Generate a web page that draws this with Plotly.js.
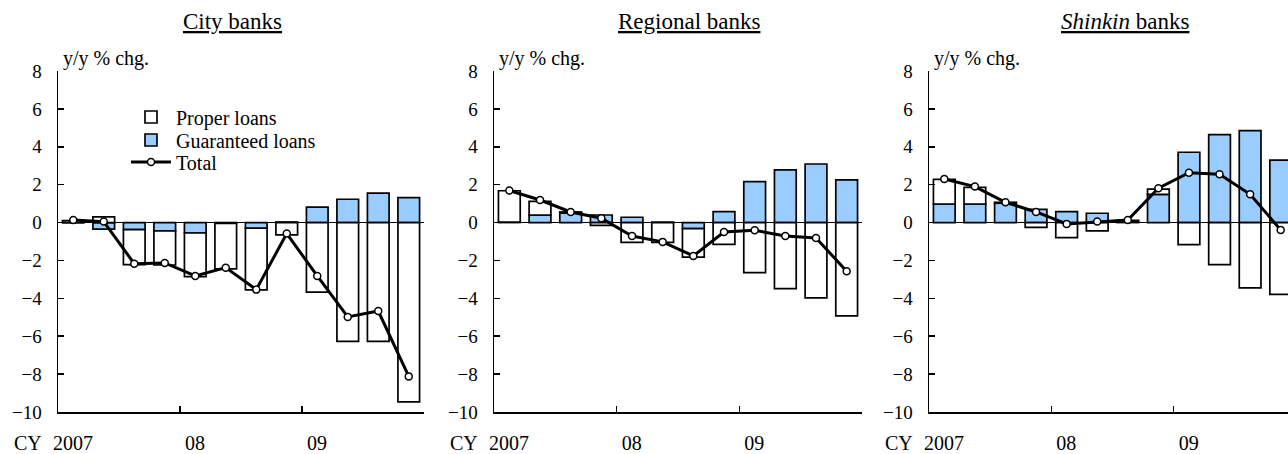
<!DOCTYPE html>
<html><head><meta charset="utf-8">
<script src="https://cdn.plot.ly/plotly-3.0.1.min.js"></script>
<style>html,body{margin:0;padding:0;background:#fff}</style>
</head><body><div id="chart" style="width:1288px;height:454px"></div>
<script>
// Quarters 2007Q1 .. 2009Q4
const quarters = ['2007Q1','2007Q2','2007Q3','2007Q4','2008Q1','2008Q2','2008Q3','2008Q4','2009Q1','2009Q2','2009Q3','2009Q4'];
const yearTickText = ['2007','08','09',''];

const panelTitles = ['<u>City banks</u>', '<u>Regional banks</u>', '<u><i>Shinkin</i> banks</u>'];

const cityProper     = [0.1, 0.3, -1.85, -1.8, -2.3, -2.4, -3.25, -0.65, -3.67, -6.27, -6.27, -9.47];
const cityGuaranteed = [0.0, -0.35, -0.37, -0.44, -0.55, -0.05, -0.3, 0.03, 0.81, 1.23, 1.55, 1.32];
const cityTotal      = [0.13, 0.05, -2.17, -2.13, -2.82, -2.38, -3.54, -0.58, -2.82, -4.98, -4.67, -8.12];

const regionalProper     = [1.65, 0.72, 0.06, -0.15, -1.05, -1.05, -1.5, -1.15, -2.64, -3.49, -3.98, -4.93];
const regionalGuaranteed = [0.03, 0.4, 0.5, 0.4, 0.28, 0.02, -0.32, 0.58, 2.16, 2.78, 3.09, 2.25];
const regionalTotal      = [1.69, 1.19, 0.56, 0.23, -0.71, -1.02, -1.76, -0.5, -0.41, -0.71, -0.81, -2.57];

const shinkinProper     = [1.3, 0.88, 0.05, -0.25, -0.8, -0.44, 0.1, 0.27, -1.17, -2.22, -3.45, -3.79];
const shinkinGuaranteed = [0.98, 0.98, 1.02, 0.7, 0.58, 0.49, 0.02, 1.49, 3.71, 4.64, 4.85, 3.3];
const shinkinTotal      = [2.3, 1.9, 1.07, 0.56, -0.07, 0.05, 0.13, 1.81, 2.63, 2.55, 1.49, -0.39];

const panels = [
  {proper: cityProper, guar: cityGuaranteed, total: cityTotal},
  {proper: regionalProper, guar: regionalGuaranteed, total: regionalTotal},
  {proper: shinkinProper, guar: shinkinGuaranteed, total: shinkinTotal}
];

const W = 1288, H = 454;
const FONT = '"Liberation Serif", "Times New Roman", Times, "DejaVu Serif", serif';
const xIdx = quarters.map((q, i) => i);
// plot area pixel extents of each panel
const px = [[58, 424], [494, 862], [929, 1296]];
const yTop = 71, yBot = 412;

function legendBox(rowY) {
  return {
    x: 126 / W, y: 1 - rowY / H, xanchor: 'left', yanchor: 'middle',
    bgcolor: 'rgba(0,0,0,0)', borderwidth: 0,
    font: {family: FONT, size: 20, color: '#000'},
    itemwidth: 40
  };
}

const traces = [];
const layout = {
  width: W, height: H,
  margin: {l: 0, r: 0, t: 0, b: 0},
  paper_bgcolor: '#fff', plot_bgcolor: '#fff',
  barmode: 'relative', bargap: 0.29,
  showlegend: true,
  hovermode: false,
  font: {family: FONT, size: 17, color: '#000'},
  legend: legendBox(117),
  legend2: legendBox(140),
  legend3: legendBox(162),
  annotations: []
};

panels.forEach((p, k) => {
  const n = k + 1;
  const xa = n === 1 ? 'x' : 'x' + n;
  const ya = n === 1 ? 'y' : 'y' + n;
  const left = px[k][0], right = Math.min(px[k][1], W);
  const fullW = px[k][1] - px[k][0];
  const visFrac = (right - left) / fullW;
  layout['xaxis' + (n === 1 ? '' : n)] = {
    domain: [left / W, right / W],
    range: [-0.5, -0.5 + quarters.length * visFrac],
    anchor: ya,
    tickmode: 'array',
    tickvals: [-0.5, 3.5, 7.5, 11.5],
    ticktext: yearTickText,
    ticks: 'inside', ticklen: 6, tickwidth: 1.5, tickcolor: '#000',
    ticklabelshift: 15, ticklabelstandoff: 12,
    showline: true, linecolor: '#000', linewidth: 1.5,
    showgrid: false, zeroline: false,
    tickfont: {family: FONT, size: 20, color: '#000'},
    fixedrange: true
  };
  layout['yaxis' + (n === 1 ? '' : n)] = {
    domain: [1 - yBot / H, 1 - yTop / H],
    range: [-10, 8], dtick: 2, tick0: 0,
    anchor: xa,
    ticks: 'inside', ticklen: 6, tickwidth: 1.5, tickcolor: '#000',
    ticklabelstandoff: 11,
    showline: true, linecolor: '#000', linewidth: 1.5,
    showgrid: false, zeroline: true, zerolinecolor: '#000', zerolinewidth: 1,
    tickfont: {family: FONT, size: 19, color: '#000'},
    fixedrange: true
  };
  traces.push({
    type: 'bar', x: xIdx, y: p.guar, xaxis: xa, yaxis: ya,
    name: 'Guaranteed loans', legend: 'legend2', showlegend: k === 0,
    marker: {color: '#99ccff', line: {color: '#000', width: 1.7}}
  });
  traces.push({
    type: 'bar', x: xIdx, y: p.proper, xaxis: xa, yaxis: ya,
    name: 'Proper loans', legend: 'legend', showlegend: k === 0,
    marker: {color: '#ffffff', line: {color: '#000', width: 1.7}}
  });
  traces.push({
    type: 'scatter', mode: 'lines+markers', x: xIdx, y: p.total, xaxis: xa, yaxis: ya,
    name: 'Total', legend: 'legend3', showlegend: k === 0, cliponaxis: true,
    line: {color: '#000', width: 3},
    marker: {color: '#fff', size: 7, line: {color: '#000', width: 1.5}}
  });
  // panel title
  const titleCenters = [232, 689, 1125];
  layout.annotations.push({
    xref: 'paper', yref: 'paper', x: titleCenters[k] / W, y: 1 - 21 / H,
    xanchor: 'center', yanchor: 'middle', showarrow: false,
    text: panelTitles[k], font: {family: FONT, size: 23, color: '#000'}
  });
  // unit label
  layout.annotations.push({
    xref: xa + ' domain', yref: 'paper', x: 0, y: 1 - 58 / H,
    xanchor: 'left', yanchor: 'middle', xshift: 3, showarrow: false,
    text: 'y/y % chg.', font: {family: FONT, size: 20, color: '#000'}
  });
  // CY label
  layout.annotations.push({
    xref: xa + ' domain', yref: 'paper', x: 0, y: 1 - 443 / H,
    xanchor: 'right', yanchor: 'middle', xshift: -14, showarrow: false,
    text: 'CY', font: {family: FONT, size: 20, color: '#000'}
  });
});

Plotly.newPlot('chart', traces, layout, {displayModeBar: false, staticPlot: true});
</script>
</body></html>
